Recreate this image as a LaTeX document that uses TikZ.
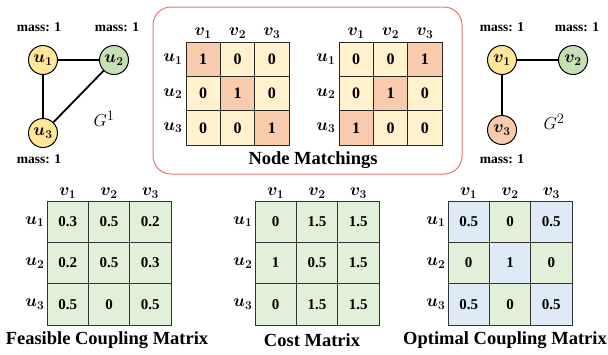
\documentclass[tikz,border=0pt]{standalone}
\usepackage{fontspec}
\setmainfont{Liberation Serif}
\usepackage{bm}
\definecolor{nodeY}{HTML}{FFE699}
\definecolor{nodeG}{HTML}{C5E0B4}
\definecolor{nodeS}{HTML}{F8CBAD}
\definecolor{cre}{HTML}{FFF2CC}
\definecolor{sal}{HTML}{F8CBAD}
\definecolor{grn}{HTML}{E2F0D9}
\definecolor{blu}{HTML}{DEEBF7}
\definecolor{framered}{HTML}{F07070}
\tikzset{
  gnode/.style={circle, draw=black, line width=1pt, minimum size=29pt, inner sep=0pt,
    font=\fontsize{17}{19}\selectfont},
  edge/.style={line width=1.8pt},
  mass/.style={font=\bfseries\fontsize{13.5}{15}\selectfont, inner sep=0pt},
  gname/.style={font=\fontsize{19}{21}\selectfont, inner sep=0pt},
  smallcell/.style={draw=black!85, line width=0.9pt, minimum size=34.3pt, inner sep=0pt,
    font=\bfseries\fontsize{16}{18}\selectfont},
  bigcell/.style={draw=black!80, line width=0.9pt, minimum size=41.3pt, inner sep=0pt,
    font=\bfseries\fontsize{15}{17}\selectfont},
  lab/.style={inner sep=0pt, font=\fontsize{17}{19}\selectfont},
  title/.style={inner sep=0pt, font=\bfseries\fontsize{18.5}{21}\selectfont},
}
\begin{document}
\begin{tikzpicture}[x=1pt, y=-1pt]
\useasboundingbox (0,0) rectangle (608,354);

% graph G^1
\node[gnode, fill=nodeY] (u1) at (43,60) {$\bm{u_1}$};
\node[gnode, fill=nodeG] (u2) at (114,60) {$\bm{u_2}$};
\node[gnode, fill=nodeY] (u3) at (43,133) {$\bm{u_3}$};
\draw[edge] (u1) -- (u2);
\draw[edge] (u1) -- (u3);
\draw[edge] (u2) -- (u3);
\node[mass] (mu1) at (39,27) {mass: 1};
\node[mass] (mu2) at (117,27) {mass: 1};
\node[mass] (mu3) at (39,159) {mass: 1};
\node[gname] (g1) at (104,119) {$G^1$};

% graph G^2
\node[gnode, fill=nodeY] (v1) at (502,60) {$\bm{v_1}$};
\node[gnode, fill=nodeG] (v2) at (573,60) {$\bm{v_2}$};
\node[gnode, fill=nodeS] (v3) at (502,130) {$\bm{v_3}$};
\draw[edge] (v1) -- (v2);
\draw[edge] (v1) -- (v3);
\node[mass] (mv1) at (502,27) {mass: 1};
\node[mass] (mv2) at (577,27) {mass: 1};
\node[mass] (mv3) at (502,159) {mass: 1};
\node[gname] (g2) at (554,122) {$G^2$};

% node matchings frame
\draw[framered, line width=1pt, rounded corners=18pt] (153,7) rectangle (462,174);
\node[title] (nm) at (313,160) {Node Matchings};

% first matching (identity)
\foreach \v/\f [count=\i from 0] in {1/sal,0/cre,0/cre,0/cre,1/sal,0/cre,0/cre,0/cre,1/sal} {
  \pgfmathtruncatemacro\r{\i/3}
  \pgfmathtruncatemacro\c{mod(\i,3)}
  \node[smallcell, fill=\f] (pa-\r\c) at ({203.2+34.3*\c},{59.2+34.3*\r}) {\v};
}
% second matching (anti-diagonal)
\foreach \v/\f [count=\i from 0] in {0/cre,0/cre,1/sal,0/cre,1/sal,0/cre,1/sal,0/cre,0/cre} {
  \pgfmathtruncatemacro\r{\i/3}
  \pgfmathtruncatemacro\c{mod(\i,3)}
  \node[smallcell, fill=\f] (pb-\r\c) at ({356.2+34.3*\c},{59.2+34.3*\r}) {\v};
}
\foreach \k in {1,2,3} {
  \pgfmathtruncatemacro\c{\k-1}
  \node[lab, above=3pt] (pah\k) at (pa-0\c.north) {$\bm{v_\k}$};
  \node[lab, above=3pt] (pbh\k) at (pb-0\c.north) {$\bm{v_\k}$};
  \node[lab, left=3pt] (par\k) at (pa-\c0.west) {$\bm{u_\k}$};
  \node[lab, left=3pt] (pbr\k) at (pb-\c0.west) {$\bm{u_\k}$};
}

% feasible coupling matrix
\foreach \v [count=\i from 0] in {0.3,0.5,0.2,0.2,0.5,0.3,0.5,0,0.5} {
  \pgfmathtruncatemacro\r{\i/3}
  \pgfmathtruncatemacro\c{mod(\i,3)}
  \node[bigcell, fill=grn] (fa-\r\c) at ({67.7+41.3*\c},{221.7+41.3*\r}) {\v};
}
% cost matrix
\foreach \v [count=\i from 0] in {0,1.5,1.5,1,0.5,1.5,0,1.5,1.5} {
  \pgfmathtruncatemacro\r{\i/3}
  \pgfmathtruncatemacro\c{mod(\i,3)}
  \node[bigcell, fill=grn] (co-\r\c) at ({275.7+41.3*\c},{221.7+41.3*\r}) {\v};
}
% optimal coupling matrix
\foreach \v/\f [count=\i from 0] in {0.5/blu,0/grn,0.5/blu,0/grn,1/blu,0/grn,0.5/blu,0/grn,0.5/blu} {
  \pgfmathtruncatemacro\r{\i/3}
  \pgfmathtruncatemacro\c{mod(\i,3)}
  \node[bigcell, fill=\f] (op-\r\c) at ({468.7+41.3*\c},{221.7+41.3*\r}) {\v};
}
\foreach \k in {1,2,3} {
  \pgfmathtruncatemacro\c{\k-1}
  \foreach \m in {fa,co,op} {
    \node[lab, above=2pt] (\m h\k) at (\m-0\c.north) {$\bm{v_\k}$};
    \node[lab, left=2pt] (\m r\k) at (\m-\c0.west) {$\bm{u_\k}$};
  }
}
\node[title] (tfa) at (107,340) {Feasible Coupling Matrix};
\node[title] (tco) at (312,340) {Cost Matrix};
\node[title] (top) at (505,340) {Optimal Coupling Matrix};
\end{tikzpicture}
\end{document}
